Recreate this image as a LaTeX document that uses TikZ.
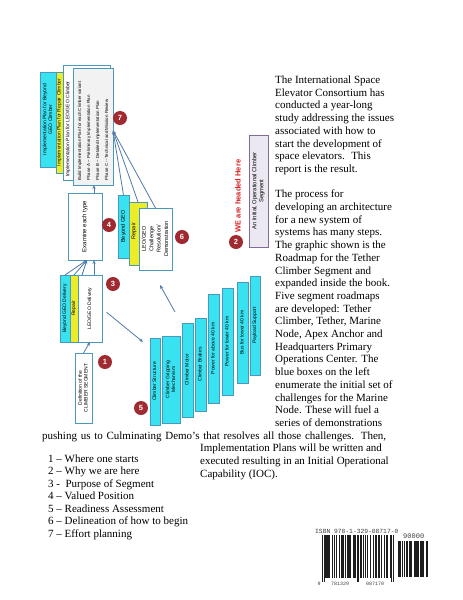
\documentclass[tikz,border=0pt]{standalone}
\usepackage{fontspec}
\setmainfont{Liberation Serif}
\newfontfamily\arialf{Liberation Sans}
\newfontfamily\monof{Liberation Mono}
\usetikzlibrary{arrows.meta,calc}

\definecolor{cyanf}{RGB}{56,226,240}
\definecolor{bordc}{RGB}{74,152,188}
\definecolor{yelf}{RGB}{236,236,40}
\definecolor{arrc}{RGB}{82,122,168}
\definecolor{circf}{RGB}{160,42,48}
\definecolor{redt}{RGB}{214,32,32}
\definecolor{lavf}{RGB}{236,232,242}
\definecolor{lavb}{RGB}{128,108,150}
\definecolor{grayf}{RGB}{242,242,242}
\definecolor{barc}{RGB}{30,30,30}

\newcommand\rtxt[1]{\rotatebox{90}{\begin{tabular}{@{}c@{}}#1\end{tabular}}}

\begin{document}
\begin{tikzpicture}[x=1pt,y=-1pt,
  bx/.style={draw=bordc, line width=0.7pt, inner sep=0pt, outer sep=0pt, anchor=north west,
     font=\arialf\fontsize{5}{5.8}\selectfont},
  cbx/.style={bx, fill=cyanf},
  ybx/.style={bx, fill=yelf},
  wbx/.style={bx, fill=white},
  arr/.style={draw=arrc, line width=0.8pt, -{Stealth[length=4pt,width=3.2pt]}},
  num/.style={circle, fill=circf, text=white, inner sep=0pt, minimum size=14pt,
     font=\arialf\bfseries\fontsize{7.5}{7.5}\selectfont},
  body/.style={anchor=base west, inner sep=0pt, font=\fontsize{11}{12.7}\selectfont},
  mono/.style={inner sep=0pt, text=black!75, font=\monof\fontsize{6.3}{7}\selectfont},
]
\useasboundingbox[fill=white] (0,0) rectangle (463,600);

% ---- 7 : implementation plans
\node[cbx, minimum width=16pt, minimum height=95pt] (pc) at (40,72) {\rtxt{Implementation Plan for Beyond\\GEO Climber}};
\node[ybx, minimum width=7pt, minimum height=101pt] (py) at (56,72) {\rtxt{Implementation Plan for Repair Climber}};
\node[wbx, minimum width=47pt, minimum height=115pt] (pw) at (63,65) {};
\node[rotate=90, inner sep=0pt, font=\arialf\fontsize{5}{5.8}\selectfont] (pwt) at (68,129) {Implementation Plan for LEO/GEO Climber};
\node[bx, fill=grayf, minimum width=40pt, minimum height=117pt] (pf) at (73,68)
  {\rotatebox{90}{\parbox{108pt}{\raggedright\fontsize{4.4}{9}\selectfont
   Build Implementation Plan for each Climber variant\\
   Phase A -- Preliminary Implementation Plan\\
   Phase B -- Detailed Implementation Plan\\
   Phase C -- Technical and Mission Review}}};

% ---- examine
\node[wbx, minimum width=34pt, minimum height=67pt, font=\arialf\fontsize{6}{7}\selectfont] (ex) at (68,193) {\rtxt{Examine each type}};

% ---- delivery group
\node[cbx, minimum width=10pt, minimum height=67pt] (dc) at (60,275) {\rtxt{Beyond GEO Delivery}};
\node[ybx, minimum width=8pt, minimum height=67pt] (dy) at (70,275) {\rtxt{Repair}};
\node[wbx, minimum width=24pt, minimum height=67pt] (dw) at (78,275) {\rtxt{LEO/GEO Delivery}};

% ---- definition
\node[wbx, minimum width=17pt, minimum height=70pt] (df) at (75,353) {\rtxt{Definition of the\\CLIMBER SEGMENT}};

% ---- group 4 / 6
\node[cbx, minimum width=11pt, minimum height=63pt, font=\arialf\fontsize{5.5}{6.5}\selectfont] (c4) at (118,195) {\rtxt{Beyond GEO}};
\node[ybx, minimum width=18pt, minimum height=63pt] (y4) at (129,202) {};
\node[rotate=90, inner sep=0pt, font=\arialf\fontsize{5.5}{6.5}\selectfont] (y4t) at (134,231) {Repair};
\node[wbx, minimum width=33pt, minimum height=62pt, font=\arialf\fontsize{5.5}{7.4}\selectfont] (w4) at (139,208)
  {\rtxt{LEO/GEO\\Challenge\\Resolution/\\Demonstration}};

% ---- steps (5)
\foreach \x/\w/\t/\b/\txt [count=\i] in {
  150/10/338/425/Climber Structure,
  162/18/336/423/{Climber Gripping\\Mechanism},
  182/11/323/417/Climber Motor,
  195/11/318/411/Climber Brakes,
  208/11/294/403/Power for above 40 km,
  222/11/288/395/Power for lower 40 km,
  237/11/282/383/Bus for lower 40 km,
  250/10/276/375/Payload Support}
  \node[cbx, minimum width=\w pt, minimum height={(\b-\t)*1pt}] (s\i) at (\x,\t) {\rtxt{\txt}};

% ---- 2 : target
\node[bx, draw=lavb, fill=lavf, minimum width=19pt, minimum height=112pt, font=\arialf\fontsize{5.8}{6.8}\selectfont] (ini) at (249,135)
  {\rtxt{An Initial, Operational Climber\\Segment}};
\node[rotate=90, inner sep=0pt, text=redt, font=\arialf\bfseries\fontsize{7.5}{8}\selectfont] (we) at (238,196) {WE are headed Here};

% ---- numbered circles
\node[num] (n1) at (105,362) {1};
\node[num] (n2) at (236,242) {2};
\node[num] (n3) at (113,284) {3};
\node[num] (n4) at (109,225) {4};
\node[num] (n5) at (141,408) {5};
\node[num] (n6) at (182,237) {6};
\node[num] (n7) at (120,118) {7};

% ---- connectors
\draw[arr] (df.north) -- (dw.south);
\draw[arr] (dc.north) -- ([xshift=2pt]ex.south);
\draw[arr] (dy.north) -- ([xshift=2pt]ex.south);
\draw[arr] ([xshift=-8pt]dw.north) -- ([xshift=2pt]ex.south);
\draw[arr] ([xshift=4pt]dw.north) -- ([xshift=9pt]ex.south);
\draw[arr] ([xshift=9pt]ex.north) -- ([xshift=9pt]ex.north |- pf.south);
\draw[arr] (c4.north) -- ([yshift=-4pt]pf.east);
\draw[arr] (y4.north) -- ([yshift=-4pt]pf.east);
\draw[arr] (w4.north) -- ([yshift=-4pt]pf.east);
\coordinate (a5e) at (143,342);
\draw[arr, shorten <=6pt] (dw.east) -- (a5e);
\coordinate (a6s) at (175,312);
\coordinate (a6e) at (160,285);
\draw[arr] (a6s) -- (a6e);

% ---- body text
\foreach \l [count=\i from 0] in {
  The International Space, Elevator Consortium has, conducted a year-long,
  study addressing the issues, associated with how to, start the development of,
  space elevators.~ This, report is the result., {},
  The process for, developing an architecture, for a new system of,
  systems has many steps., The graphic shown is the, Roadmap for the Tether,
  Climber Segment and, expanded inside the book., Five segment roadmaps,
  are developed: Tether, {Climber, Tether, Marine}, {Node, Apex Anchor and},
  Headquarters Primary, Operations Center. The, blue boxes on the left,
  enumerate the initial set of, challenges for the Marine, Node. These will fuel a,
  series of demonstrations}
  \node[body] (b\i) at (275,{83.5+12.7*\i}) {\l};
\node[body] (bp) at (42,439.1) {\makebox[344pt][s]{pushing us to Culminating Demo’s that resolves all those challenges. Then,}};
\foreach \l [count=\i from 0] in {Implementation Plans will be written and,
  executed resulting in an Initial Operational, Capability (IOC).}
  \node[body] (bi\i) at (200,{451.8+12.7*\i}) {\l};

% ---- legend
\foreach \l [count=\i from 0] in {1 – Where one starts, 2 – Why we are here,
  3 -~ Purpose of Segment, 4 – Valued Position, 5 – Readiness Assessment,
  6 – Delineation of how to begin, 7 – Effort planning}
  \node[body] (lg\i) at (48,{462.5+12.45*\i}) {\l};

% ---- barcode
\foreach \b [count=\i from 0] in {2,0,2,
  0,1,1,1,0,1,1, 0,0,0,1,0,0,1, 0,1,1,0,0,1,1, 0,1,1,1,1,0,1, 0,0,1,1,0,1,1, 0,0,0,1,0,1,1,
  0,2,0,2,0,
  1,1,1,0,0,1,0, 1,0,0,1,0,0,0, 1,0,0,0,1,0,0, 1,1,0,0,1,1,0, 1,0,0,0,1,0,0, 1,1,1,0,0,1,0,
  2,0,2}{
  \ifnum\b=1 \fill[barc] ({322+\i*0.75},535) rectangle ({322.05+(\i+1)*0.75},578);\fi
  \ifnum\b=2 \fill[barc] ({322+\i*0.75},535) rectangle ({322.05+(\i+1)*0.75},582);\fi
}
\foreach \b [count=\i from 0] in {1,0,1,1,
  0,0,0,1,0,1,1, 0,1, 0,1,0,0,1,1,1, 0,1, 0,0,0,1,1,0,1, 0,1, 0,1,0,0,1,1,1, 0,1, 0,0,0,1,1,0,1}{
  \ifnum\b=1 \fill[barc] ({398+\i*0.64},541) rectangle ({398.05+(\i+1)*0.64},577);\fi
}
\node[mono, anchor=base west] (isbn) at (315,533) {ISBN 978-1-329-08717-0};
\node[mono, anchor=base west, font=\monof\fontsize{7}{8}\selectfont] (add) at (403,538) {90000};
\node[mono, font=\monof\fontsize{5}{6}\selectfont] (d0) at (319,584) {9};
\node[mono, font=\monof\fontsize{5}{6}\selectfont] (d1) at (340,584) {781329};
\node[mono, font=\monof\fontsize{5}{6}\selectfont] (d2) at (375,584) {087170};
\end{tikzpicture}
\end{document}
